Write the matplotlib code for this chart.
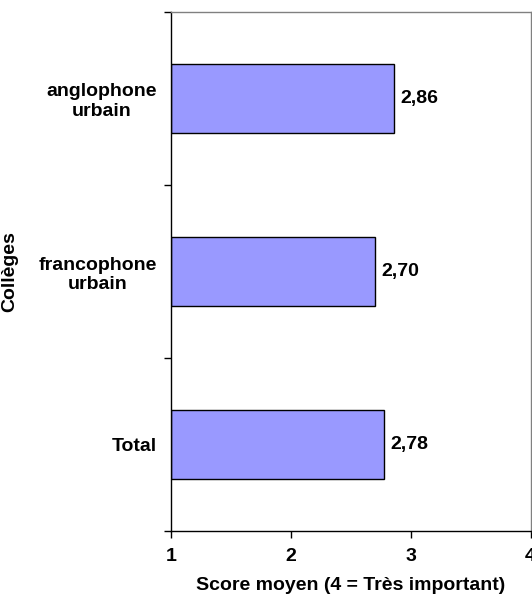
import matplotlib
matplotlib.use("Agg")
import matplotlib.pyplot as plt
from matplotlib.ticker import FixedLocator

categories = ["Total", "francophone\nurbain", "anglophone\nurbain"]
values = [2.78, 2.70, 2.86]
value_labels = ["2,78", "2,70", "2,86"]
x_ticks = [1, 2, 3, 4]
x_label = "Score moyen (4 = Très important)"
y_label = "Collèges"

plt.rcParams['font.family'] = ['Liberation Sans', 'DejaVu Sans']
plt.rcParams['font.weight'] = 'bold'
fs = 14

fig = plt.figure(figsize=(5.32, 6.05), dpi=100)
ax = fig.add_axes([171/532, (605-531)/605, (530.5-171)/532, (531-12)/605])

pos = list(range(len(categories)))
base = 1
ax.barh(pos, [v - base for v in values], left=base, height=0.4,
        color='#9999FF', edgecolor='black', linewidth=1.0, zorder=2)
for p, v, t in zip(pos, values, value_labels):
    ax.annotate(t, (v, p), xytext=(4.5, 0), textcoords='offset points',
                ha='left', va='center', fontsize=fs, fontweight='bold')

ax.set_xlim(1, 4)
ax.set_ylim(-0.5, len(categories) - 0.5)
ax.set_xticks(x_ticks)
ax.set_xticklabels([str(t) for t in x_ticks], fontsize=fs, fontweight='bold')
ax.set_yticks(pos)
ax.set_yticklabels(categories, fontsize=fs, fontweight='bold', multialignment='center')
ax.yaxis.set_minor_locator(FixedLocator([-0.5, 0.5, 1.5, 2.5]))
ax.tick_params(axis='y', which='major', length=0, pad=10)
ax.tick_params(axis='y', which='minor', length=5, width=1, color='black', direction='out')
ax.tick_params(axis='x', which='major', length=5, width=1, direction='out', pad=7)

for s in ['left', 'bottom']:
    ax.spines[s].set_color('black')
    ax.spines[s].set_linewidth(1.0)
for s in ['top', 'right']:
    ax.spines[s].set_color('#808080')
    ax.spines[s].set_linewidth(1.0)

ax.set_xlabel(x_label, fontsize=fs, fontweight='bold', labelpad=9)
ax.set_ylabel(y_label, fontsize=fs, fontweight='bold')
ax.yaxis.set_label_coords(18/532, (605-272)/605, transform=fig.transFigure)

fig.savefig("out.png", dpi=100)
